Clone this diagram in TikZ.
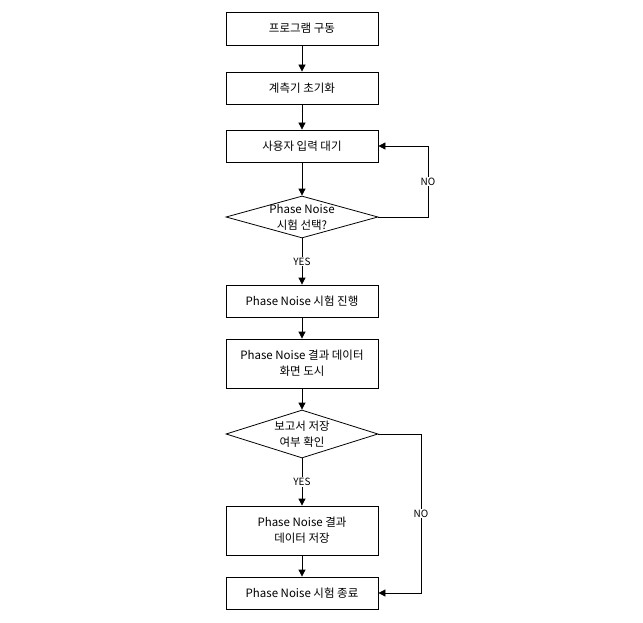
\documentclass[tikz,border=0pt]{standalone}
\usepackage{fontspec}
\setmainfont{Noto Sans CJK KR}
\usetikzlibrary{shapes.geometric,arrows.meta}
\begin{document}
\begin{tikzpicture}[x=1pt,y=-1pt,
  font=\fontsize{11.5}{16}\selectfont,
  proc/.style={draw,line width=0.8pt,minimum width=152pt,align=center,inner sep=0pt},
  dec/.style={draw,line width=0.8pt,diamond,aspect=3.6,minimum width=152pt,minimum height=42pt,inner sep=0pt},
  dectext/.style={align=center,inner sep=0pt},
  flow/.style={line width=0.8pt,-{Triangle[length=7pt,width=7pt]}},
  lbl/.style={fill=white,inner sep=1pt,font=\fontsize{10}{12}\selectfont}]
\useasboundingbox (0,0) rectangle (643,623);
\node[proc,minimum height=33pt] (b1) at (302,28.5) {프로그램 구동};
\node[proc,minimum height=32pt] (b2) at (302,88) {계측기 초기화};
\node[proc,minimum height=32pt] (b3) at (302,146) {사용자 입력 대기};
\node[dec] (d1) at (302,217) {};
\node[dectext] (t1) at (d1.center) {Phase Noise\\시험 선택?};
\node[proc,minimum height=32pt] (b4) at (302,301) {Phase Noise 시험 진행};
\node[proc,minimum height=49pt] (b5) at (302,363.5) {Phase Noise 결과 데이터\\화면 도시};
\node[dec,minimum height=48pt] (d2) at (302,434) {};
\node[dectext] (t2) at (d2.center) {보고서 저장\\여부 확인};
\node[proc,minimum height=49pt] (b6) at (302,530.5) {Phase Noise 결과\\데이터 저장};
\node[proc,minimum height=32pt] (b7) at (302,593) {Phase Noise 시험 종료};
\coordinate (c1) at (428,217);
\coordinate (c2) at (421,434);
\draw[flow] (b1) -- (b2);
\draw[flow] (b2) -- (b3);
\draw[flow] (b3) -- (d1);
\draw[flow] (d1) -- node[lbl] {YES} (b4);
\draw[flow] (b4) -- (b5);
\draw[flow] (b5) -- (d2);
\draw[flow] (d2) -- node[lbl] {YES} (b6);
\draw[flow] (b6) -- (b7);
\draw[flow] (d1.east) -- (c1) -- node[lbl,pos=0.5] {NO} (c1 |- b3.east) -- (b3.east);
\draw[flow] (d2.east) -- (c2) -- node[lbl,pos=0.5] {NO} (c2 |- b7.east) -- (b7.east);
\end{tikzpicture}
\end{document}
